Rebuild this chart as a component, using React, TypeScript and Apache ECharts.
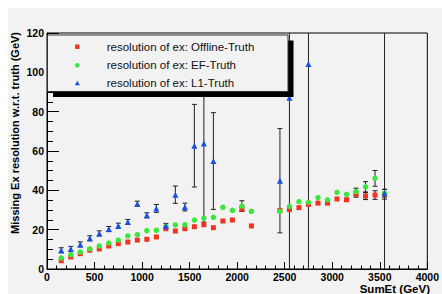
import React, { useEffect, useRef } from "react";
import * as echarts from "echarts";

const sumEt = [150, 250, 350, 450, 550, 650, 750, 850, 950, 1050, 1150, 1250, 1350, 1450, 1550, 1650, 1750, 1850, 1950, 2050, 2150, 2250, 2350, 2450, 2550, 2650, 2750, 2850, 2950, 3050, 3150, 3250, 3350, 3450, 3550];

const offline = [4.2, 6.1, 7.8, 9.5, 10.2, 11.7, 12.9, 13.7, 14.7, 15.1, 16.3, 20.5, 19.3, 20.5, 21.5, 22.5, 21, 24.4, 24.9, 30.5, 21.9, null, null, 29.8, 30.2, 31.2, 32.9, 33.5, 33.5, 35.6, 35.2, 38, 37.1, 37.6, 38];
const offlineErr = [0, 0, 0, 0, 0, 0, 0, 0, 0, 0, 0, 0, 0, 0, 0, 0, 0, 0, 0, 1, 0, 0, 0, 0, 0, 0, 0, 0, 0, 0, 0, 1.5, 1.8, 2.2, 2.5];

const ef = [5.6, 7.3, 8.6, 10.2, 11.7, 13.2, 14.7, 16.8, 17.5, 19.5, 19.7, 21.7, 22.4, 22.5, 24.9, 25.9, 26.3, 31.4, 29.8, 32, 29.3, null, null, 29.3, 31.9, 34.2, 33.9, 36.3, 35.2, 39, 38, 39.3, 41.8, 46.1, 38.5];
const efErr = [0, 0, 0, 0, 0, 0, 0, 0, 0, 0, 0, 0, 0, 0, 0, 0, 0, 0, 0, 2.7, 0, 0, 0, 0, 0, 0, 0, 0, 0, 0, 0, 1.8, 2.6, 4, 2];

const l1 = [9.5, 10.2, 12.5, 15.6, 18.1, 20.3, 22, 23.9, 33.2, 27.3, 30.8, 21.9, 37.8, 31.5, 62.7, 63.8, 54.9, null, null, null, null, null, null, 44.9, 87.1, null, 104.2, null, null, null, null, null, null, null, 38.5];
const l1Err = [1.3, 1.3, 1.3, 1.3, 1.3, 1.3, 1.3, 1.3, 1.3, 1.3, 2, 1.3, 4.4, 2, 21, 40, 24.6, 0, 0, 0, 0, 0, 0, 26.5, 90, 0, 110, 0, 0, 0, 0, 0, 0, 0, 85];

const yTicks = { min: 0, max: 120, interval: 20 };
const xTicks = { min: 0, max: 4000, interval: 500 };

const legendItems = [
  { name: "resolution of ex: Offline-Truth", color: "#f0321e", shape: "rect" },
  { name: "resolution of ex: EF-Truth", color: "#3ce63c", shape: "circle" },
  { name: "resolution of ex: L1-Truth", color: "#1a4fe0", shape: "triangle" },
];

const FONT = "'Liberation Sans', Arial, Helvetica, sans-serif";
const BG = "#f2f2f2";

function points(vals: (number | null)[]) {
  const out: number[][] = [];
  vals.forEach((v, i) => {
    if (v !== null) out.push([sumEt[i], v]);
  });
  return out;
}
function errPoints(vals: (number | null)[], errs: number[]) {
  const out: number[][] = [];
  vals.forEach((v, i) => {
    if (v !== null && errs[i] > 0) out.push([sumEt[i], v, errs[i]]);
  });
  return out;
}

function errSeries(data: number[][]) {
  return {
    type: "custom",
    clip: true,
    data,
    encode: { x: 0, y: 1 },
    silent: true,
    renderItem: (params: any, api: any) => {
      const x = api.value(0);
      const y = api.value(1);
      const e = api.value(2);
      const top = api.coord([x, y + e]);
      const bot = api.coord([x, y - e]);
      const cw = 2.5;
      const st = { stroke: "#222", lineWidth: 1 };
      return {
        type: "group",
        children: [
          { type: "line", shape: { x1: top[0], y1: top[1], x2: bot[0], y2: bot[1] }, style: st },
          { type: "line", shape: { x1: top[0] - cw, y1: top[1], x2: top[0] + cw, y2: top[1] }, style: st },
          { type: "line", shape: { x1: bot[0] - cw, y1: bot[1], x2: bot[0] + cw, y2: bot[1] }, style: st },
        ],
      };
    },
  };
}

export default function App() {
  const ref = useRef<HTMLDivElement>(null);
  useEffect(() => {
    if (!ref.current) return;
    const chart = echarts.init(ref.current, null, { renderer: "svg" });

    const boxX = 39.5, boxY = 27, boxW = 240.5, boxH = 56.5;
    const rowsY = [38.7, 57.3, 75.3];
    const legendGraphics: any[] = [
      { type: "rect", z: 100, shape: { x: boxX + 5.5, y: boxY + 5.5, width: boxW, height: boxH }, style: { fill: "#000" } },
      { type: "rect", z: 101, shape: { x: boxX, y: boxY, width: boxW, height: boxH }, style: { fill: BG, stroke: "#333", lineWidth: 1 } },
    ];
    legendItems.forEach((it, i) => {
      const cy = rowsY[i];
      const cx = 69.3;
      if (it.shape === "rect") {
        legendGraphics.push({ type: "rect", z: 102, shape: { x: cx - 2.2, y: cy - 2.2, width: 4.4, height: 4.4 }, style: { fill: it.color } });
      } else if (it.shape === "circle") {
        legendGraphics.push({ type: "circle", z: 102, shape: { cx, cy, r: 2.3 }, style: { fill: it.color } });
      } else {
        legendGraphics.push({ type: "polygon", z: 102, shape: { points: [[cx, cy - 2.6], [cx + 2.5, cy + 2], [cx - 2.5, cy + 2]] }, style: { fill: it.color } });
      }
      legendGraphics.push({
        type: "text", z: 102, x: 98.7, y: cy,
        style: { text: it.name, fill: "#111", font: `11.5px ${FONT}`, verticalAlign: "middle", align: "left" },
      });
    });

    const option: any = {
      animation: false,
      backgroundColor: BG,
      grid: { left: 39, right: 10, top: 25, bottom: 25, show: true, borderColor: "#000", borderWidth: 1, backgroundColor: BG },
      xAxis: {
        type: "value",
        min: xTicks.min, max: xTicks.max, interval: xTicks.interval,
        axisLine: { show: true, onZero: false, lineStyle: { color: "#000", width: 1 } },
        axisTick: { show: true, inside: true, length: 7, lineStyle: { color: "#000" } },
        minorTick: { show: true, splitNumber: 5, length: 3.5, lineStyle: { color: "#000" } },
        splitLine: { show: false },
        axisLabel: { color: "#000", fontFamily: FONT, fontWeight: "bold", fontSize: 10.5, lineHeight: 10, margin: 3, formatter: (v: number) => String(v) },
      },
      yAxis: {
        type: "value",
        min: yTicks.min, max: yTicks.max, interval: yTicks.interval,
        axisLine: { show: true, onZero: false, lineStyle: { color: "#000", width: 1 } },
        axisTick: { show: true, inside: true, length: 12, lineStyle: { color: "#000" } },
        minorTick: { show: true, splitNumber: 4, length: 6, lineStyle: { color: "#000" } },
        splitLine: { show: false },
        axisLabel: { color: "#000", fontFamily: FONT, fontWeight: "bold", fontSize: 10.5, margin: 3, formatter: (v: number) => String(v) },
      },
      graphic: [
        {
          type: "text", z: 100, x: 422, y: 280.5,
          style: { text: "SumEt (GeV)", fill: "#000", font: `bold 11.5px ${FONT}`, lineHeight: 11, align: "right", verticalAlign: "middle" },
        },
        {
          type: "text", z: 100, x: 7, y: 24, rotation: Math.PI / 2,
          style: { text: "Missing Ex resolution w.r.t. truth (GeV)", fill: "#000", font: `bold 11px ${FONT}`, align: "right", verticalAlign: "middle" },
        },
        ...legendGraphics,
      ],
      series: [
        errSeries(errPoints(offline, offlineErr)),
        { type: "scatter", name: legendItems[0].name, data: points(offline), symbol: "rect", symbolSize: 5, itemStyle: { color: legendItems[0].color, opacity: 1 } },
        errSeries(errPoints(ef, efErr)),
        { type: "scatter", name: legendItems[1].name, data: points(ef), symbol: "circle", symbolSize: 5.5, itemStyle: { color: legendItems[1].color, opacity: 1 } },
        errSeries(errPoints(l1, l1Err)),
        { type: "scatter", name: legendItems[2].name, data: points(l1), symbol: "triangle", symbolSize: 6, itemStyle: { color: legendItems[2].color, opacity: 1 } },
      ],
    };
    chart.setOption(option);
    return () => chart.dispose();
  }, []);
  return <div ref={ref} style={{ position: "absolute", left: 8, top: 8, width: 434, height: 286 }} />;
}
